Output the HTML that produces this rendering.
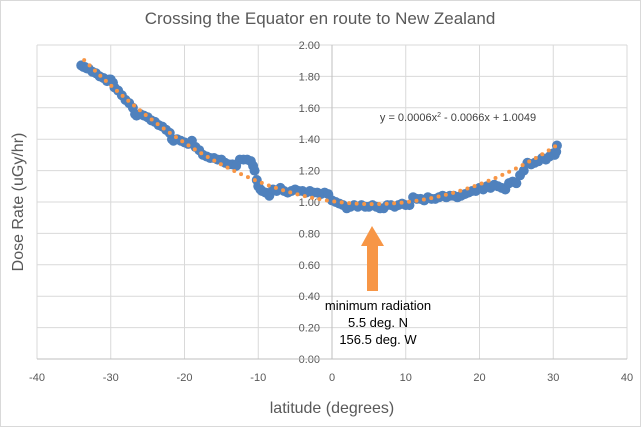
<!DOCTYPE html>
<html><head><meta charset="utf-8"><style>
body{margin:0;background:#fff}
svg{display:block;font-family:"Liberation Sans",sans-serif}
</style></head><body>
<svg id="chart" width="641" height="427" viewBox="0 0 641 427">
<rect x="0.5" y="0.5" width="640" height="426" fill="#fff" stroke="#d9d9d9"/>
<text x="320" y="24" text-anchor="middle" font-size="17" fill="#595959">Crossing the Equator en route to New Zealand</text>
<g id="grid"></g>
<g id="axes"></g>
<g id="series"></g>
<g id="trend"></g>
<text x="458" y="121" text-anchor="middle" font-size="11" fill="#404040">y = 0.0006x<tspan dy="-4" font-size="7">2</tspan><tspan dy="4"> - 0.0066x + 1.0049</tspan></text>
<polygon points="372,226 384,246 378,246 378,291 367,291 367,246 361,246" fill="#f79646"/>
<g font-size="13" fill="#000" text-anchor="middle">
<text x="378" y="310">minimum radiation</text>
<text x="378" y="327">5.5 deg. N</text>
<text x="378" y="344">156.5 deg. W</text>
</g>
<text x="332" y="413" text-anchor="middle" font-size="16" fill="#595959">latitude (degrees)</text>
<text transform="translate(23,202) rotate(-90)" text-anchor="middle" font-size="16" fill="#595959">Dose Rate (uGy/hr)</text>
</svg>
<script>
const lat=[-34,-33.7,-33.5,-33.2,-33,-32.5,-32,-31.5,-31,-30.5,-30.2,-30,-29.7,-29.5,-29,-28.5,-28,-27.5,-27,-26.7,-26.5,-26,-25.5,-25,-24.5,-24,-23.5,-23,-22.5,-22,-21.7,-21.5,-21,-20.5,-20,-19.5,-19,-18.5,-18,-17.5,-17,-16.5,-16,-15.5,-15,-14.5,-14,-13.5,-13,-12.5,-12,-11.5,-11,-10.7,-10.5,-10.2,-10,-9.7,-9.5,-9,-8.5,-8,-7.5,-7,-6.5,-6,-5.5,-5,-4.5,-4,-3.5,-3,-2.5,-2,-1.5,-1,-0.5,0,0.5,1,1.5,2,2.5,3,3.5,4,4.5,5,5.5,6,6.5,7,7.5,8,8.5,9,9.5,10,10.5,11,11.5,12,12.5,13,13.5,14,14.5,15,15.5,16,16.5,17,17.5,18,18.5,19,19.5,20,20.5,21,21.5,22,22.5,23,23.5,24,24.5,25,25.5,26,26.5,27,27.5,28,28.5,29,29.5,30,30.2,30.4,30.5];
const dose=[1.87,1.86,1.86,1.85,1.85,1.83,1.82,1.80,1.79,1.77,1.78,1.78,1.76,1.73,1.71,1.68,1.65,1.63,1.60,1.56,1.55,1.56,1.55,1.54,1.52,1.51,1.49,1.48,1.46,1.44,1.40,1.39,1.40,1.39,1.38,1.37,1.39,1.35,1.33,1.30,1.29,1.28,1.28,1.27,1.27,1.25,1.24,1.24,1.23,1.27,1.27,1.27,1.26,1.23,1.20,1.14,1.10,1.08,1.07,1.06,1.04,1.08,1.07,1.09,1.07,1.06,1.07,1.08,1.07,1.07,1.06,1.07,1.06,1.06,1.05,1.06,1.05,1.01,1.00,0.99,0.98,0.96,0.97,0.98,0.97,0.98,0.97,0.97,0.98,0.97,0.96,0.96,0.98,0.98,0.97,0.98,0.99,0.98,0.98,1.03,1.02,1.02,1.01,1.03,1.02,1.02,1.03,1.04,1.03,1.04,1.04,1.03,1.04,1.05,1.06,1.07,1.07,1.09,1.08,1.10,1.09,1.11,1.10,1.09,1.08,1.12,1.13,1.12,1.17,1.20,1.25,1.24,1.25,1.26,1.28,1.27,1.29,1.31,1.30,1.32,1.36,1.40,1.37];
const xTicks=[-40,-30,-20,-10,0,10,20,30,40];
const yTicks=[0,0.2,0.4,0.6,0.8,1.0,1.2,1.4,1.6,1.8,2.0];
const trendCoef=[0.0006,-0.0066,1.0049];
const NS='http://www.w3.org/2000/svg';
const X0=37,X1=627,Y0=359,Y1=45;
const xs=v=>X0+(v+40)/80*(X1-X0);
const ys=v=>Y0-v/2*(Y0-Y1);
function mk(tag,attrs,parent){const e=document.createElementNS(NS,tag);for(const k in attrs)e.setAttribute(k,attrs[k]);parent.appendChild(e);return e;}
const grid=document.getElementById('grid'),axes=document.getElementById('axes');
yTicks.forEach(t=>{
  const l=mk('line',{x1:X0,x2:X1,y1:ys(t),y2:ys(t),stroke:'#d9d9d9'},grid);
  
  
  const tx=mk('text',{x:xs(0)-12,y:ys(t)+4,'text-anchor':'end','font-size':11,fill:'#595959'},axes);
  tx.textContent=t.toFixed(2);
  
  
});
xTicks.forEach(t=>{
  const l=mk('line',{x1:xs(t),x2:xs(t),y1:Y1,y2:Y0,stroke:t===0?'#bfbfbf':'#d9d9d9'},grid);
  
  
  const tx=mk('text',{x:xs(t),y:Y0+22,'text-anchor':'middle','font-size':11,fill:'#595959'},axes);
  tx.textContent=t;
  
  
});
const xa=mk('line',{x1:X0,x2:X1,y1:Y0,y2:Y0,stroke:'#bfbfbf'},axes);


const ser=document.getElementById('series');
lat.forEach((v,i)=>{
  const c=mk('circle',{cx:xs(v),cy:ys(dose[i]),r:5,fill:'#4f81bd'},ser);
  
  
});
let d='';
for(let x=-33.6;x<=lat[lat.length-1]+0.001;x+=0.25){const y=trendCoef[0]*x*x+trendCoef[1]*x+trendCoef[2];d+=(d?'L':'M')+xs(x).toFixed(1)+','+ys(y).toFixed(1);}
const tp=mk('path',{d:d,fill:'none',stroke:'#f79646','stroke-width':4,'stroke-linecap':'round','stroke-dasharray':'0 7.5'},document.getElementById('trend'));


</script>
</body></html>
